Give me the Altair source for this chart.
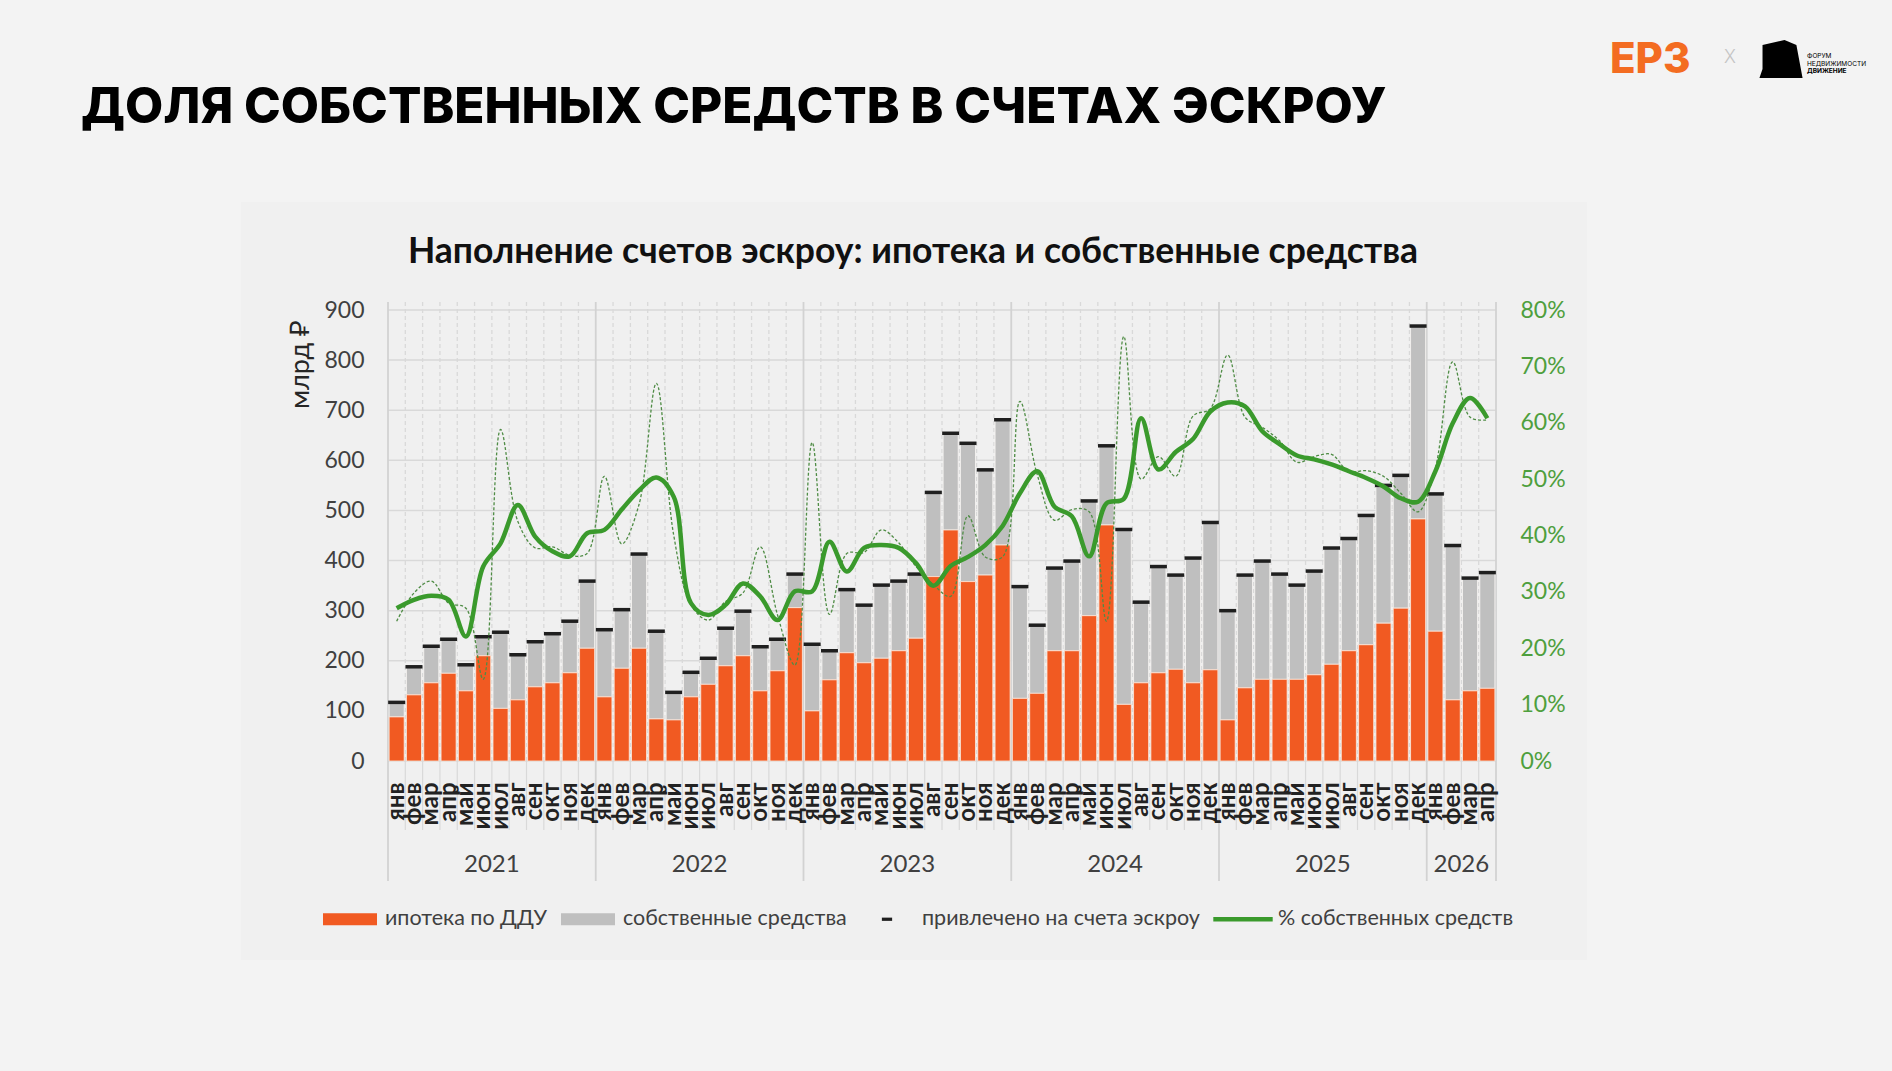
import altair as alt
import pandas as pd

# ---- source values -------------------------------------------------------
years = [2021, 2022, 2023, 2024, 2025, 2026]
months_in_year = [12, 12, 12, 12, 12, 4]
month_names = ["янв", "фев", "мар", "апр", "май", "июн",
               "июл", "авг", "сен", "окт", "ноя", "дек"]

# ипотека по ДДУ, млрд руб.
mortgage = [
    88, 132, 156, 175, 140, 210, 105, 122, 148, 156, 176, 225,
    128, 185, 225, 84, 82, 128, 153, 190, 210, 140, 180, 306,
    100, 162, 216, 196, 205, 220, 245, 368, 461, 358, 371, 431,
    125, 135, 220, 220, 290, 471, 113, 156, 176, 183, 156, 182,
    82, 146, 163, 163, 163, 172, 193, 220, 232, 275, 305, 483,
    259, 122, 140, 145,
]
# привлечено на счета эскроу, млрд руб.
total = [
    117, 188, 229, 243, 192, 248, 257, 212, 238, 254, 279, 359,
    262, 302, 413, 259, 137, 177, 205, 265, 299, 228, 243, 373,
    233, 220, 342, 311, 351, 359, 373, 536, 654, 634, 581, 681,
    348, 271, 385, 399, 519, 629, 462, 317, 388, 371, 405, 476,
    300, 371, 399, 373, 351, 379, 425, 444, 490, 550, 570, 868,
    533, 430, 365, 376,
]
# доля собственных средств за месяц, %
own_share = [
    24.8, 29.8, 31.9, 28.0, 27.1, 14.5, 58.8, 42.5, 37.8, 38.0, 36.5, 36.8,
    50.5, 38.5, 45.5, 67.0, 40.1, 27.7, 25.0, 28.3, 29.8, 38.0, 25.9, 17.0,
    56.5, 26.0, 36.8, 37.0, 41.0, 38.7, 34.5, 31.3, 29.2, 43.5, 36.2, 36.2,
    63.8, 50.8, 42.7, 44.6, 44.2, 24.8, 75.3, 50.0, 54.0, 50.5, 61.2, 62.5,
    72.0, 61.0, 59.2, 56.8, 53.0, 54.0, 54.4, 51.3, 51.5, 50.5, 47.5, 44.2,
    52.0, 70.8, 61.0, 60.5,
]
# сглаженная доля собственных средств, %
own_share_trend = [
    27.1, 28.6, 29.3, 28.6, 22.1, 34.5, 38.6, 45.4, 39.8, 37.2, 36.3, 40.4,
    41.0, 44.6, 48.0, 50.3, 46.9, 28.0, 25.9, 27.7, 31.5, 29.2, 25.0, 30.1,
    30.1, 38.9, 33.6, 37.8, 38.3, 37.8, 35.1, 31.1, 34.6, 36.2, 38.3, 41.7,
    47.5, 51.4, 45.1, 43.4, 36.3, 45.7, 46.5, 60.8, 51.7, 54.8, 57.1, 62.0,
    63.6, 62.9, 58.5, 56.2, 54.2, 53.5, 52.6, 51.4, 50.2, 48.7, 46.6, 46.0,
    51.4, 59.9, 64.4, 60.8,
]

legend_names = ["ипотека по ДДУ", "собственные средства",
                "привлечено на счета эскроу", "% собственных средств"]

TITLE = "ДОЛЯ СОБСТВЕННЫХ СРЕДСТВ В СЧЕТАХ ЭСКРОУ"
SUBTITLE = "Наполнение счетов эскроу: ипотека и собственные средства"
FORUM_LINES = ["ФОРУМ", "НЕДВИЖИМОСТИ", "ДВИЖЕНИЕ"]

# ---- styling ---------------------------------------------------------------
ORANGE = "#f15a22"
GREY = "#bfbfbf"
BLACK = "#1f1f1f"
GREEN = "#3a9a2c"
GREEN_TXT = "#4e9f3d"
GRID = "#d9d9d9"
TXT = "#404040"
FONT = "Lato"

W, H = 1108, 451
N = len(mortgage)
STEP = W / N

# ---- tables ----------------------------------------------------------------
keys, years_col = [], []
for y, n in zip(years, months_in_year):
    for m in month_names[:n]:
        keys.append(f"{m}|{y}")
        years_col.append(y)

df = pd.DataFrame({
    "key": keys,
    "year": years_col,
    "mortgage": mortgage,
    "total": total,
    "share": [v / 100 for v in own_share],
    "trend": [v / 100 for v in own_share_trend],
})

inner_keys = [k for k in keys if not k.startswith("янв|")]
year_first = [k for k in keys if k.startswith("янв|")]

# year label sits on the boundary in the middle of each year's months
year_mid = []
for y, n in zip(years, months_in_year):
    ks = [k for k, yy in zip(keys, years_col) if yy == y]
    year_mid.append(ks[n // 2 - 1])
years_df = pd.DataFrame({"key": year_mid, "label": [str(y) for y in years]})

x_scale = alt.Scale(domain=keys, paddingInner=0.13, paddingOuter=0.065)
x_axis = alt.Axis(
    title=None, labelExpr="split(datum.label, '|')[0]", labelAngle=270,
    labelFont=FONT, labelFontSize=24, labelFontWeight="bold", labelColor="#222222",
    labelPadding=21, ticks=False, tickSize=0, domain=False, grid=False,
    labelOverlap=False, labelBound=False, zindex=1,
)
X = alt.X("key:N", scale=x_scale, axis=x_axis, sort=keys)

y_scale = alt.Scale(domain=[0, 900], nice=False, zero=True)
y_axis = alt.Axis(
    title="млрд ₽", values=list(range(0, 901, 100)), grid=False, ticks=False,
    domain=False, labelFont=FONT, labelFontSize=23, labelColor=TXT, labelPadding=24,
    titleFont=FONT, titleFontSize=27, titleFontWeight="normal", titleColor="#262626",
    titleAngle=270, titleX=-88, titleY=54, titleAlign="center",
    titleBaseline="middle", zindex=1,
)

p_scale = alt.Scale(domain=[0, 0.8], nice=False, zero=True)
p_axis = alt.Axis(
    orient="right", title=None, format=".0%", values=[i / 10 for i in range(9)],
    grid=False, ticks=False, domain=False, labelFont=FONT, labelFontSize=23,
    labelColor=GREEN_TXT, labelPadding=24, zindex=1,
)

one = pd.DataFrame({"t": [0]})

# ---- background panel & headings -------------------------------------------
panel = alt.Chart(one).mark_rect(color="#f0f0f0").encode(
    x=alt.value(-147), x2=alt.value(1199), y=alt.value(-108), y2=alt.value(650)
)


def label(text, **kw):
    return alt.Chart(pd.DataFrame({"t": [text]})).mark_text(**kw).encode(text="t:N")


title = label(TITLE, align="left", baseline="alphabetic", font="Inter",
              fontSize=49.5, fontWeight=800, color="#000000").encode(
    x=alt.value(-307), y=alt.value(-187))
subtitle = label(SUBTITLE, align="center", baseline="alphabetic", font=FONT,
                 fontSize=35.5, fontWeight="bold", color="#111111").encode(
    x=alt.value(525), y=alt.value(-47))

logo_erz = label("ЕРЗ", align="left", baseline="alphabetic", font="Inter",
                 fontSize=42, fontWeight=800, color="#f36c21").encode(
    x=alt.value(1222), y=alt.value(-237))
logo_x = label("X", align="center", baseline="middle", font="Inter",
               fontSize=18, fontWeight=300, color="#c4c4c4").encode(
    x=alt.value(1342), y=alt.value(-252))
house = alt.Chart(one).mark_point(
    shape="M-0.84,-0.64L0.16,-0.86L0.70,-0.64L0.98,0.86L-0.98,0.86L-0.84,0.45Z",
    filled=True, color="#000000", opacity=1, size=1936,
).encode(x=alt.value(1393), y=alt.value(-251))
forum = [
    label(txt, align="left", baseline="alphabetic", font="Inter", fontSize=6.5,
          fontWeight=(700 if i == 2 else 400), color="#000000").encode(
        x=alt.value(1419), y=alt.value(-252 + 7.5 * i))
    for i, txt in enumerate(FORUM_LINES)
]

# ---- grid ------------------------------------------------------------------
hgrid = alt.Chart(pd.DataFrame({"v": list(range(0, 901, 100))})).mark_rule(
    color=GRID, strokeWidth=1.5
).encode(y=alt.Y("v:Q", scale=y_scale, axis=y_axis))

month_grid = alt.Chart(pd.DataFrame({"key": inner_keys})).mark_rule(
    color=GRID, strokeWidth=1.3, strokeDash=[4, 3], xOffset=-STEP / 2
).encode(x=X, y=alt.value(-8), y2=alt.value(H))
month_sep = alt.Chart(pd.DataFrame({"key": inner_keys})).mark_rule(
    color=GRID, strokeWidth=1.2, xOffset=-STEP / 2
).encode(x=X, y=alt.value(H), y2=alt.value(520))
year_sep = alt.Chart(pd.DataFrame({"key": year_first})).mark_rule(
    color="#d2d2d2", strokeWidth=1.8, xOffset=-STEP / 2
).encode(x=X, y=alt.value(-8), y2=alt.value(571))
end_sep = alt.Chart(pd.DataFrame({"key": [keys[-1]]})).mark_rule(
    color="#d2d2d2", strokeWidth=1.8, xOffset=STEP / 2
).encode(x=X, y=alt.value(-8), y2=alt.value(571))

year_labels = alt.Chart(years_df).mark_text(
    font=FONT, fontSize=24, color=TXT, baseline="middle", align="center", dx=STEP / 2
).encode(x=X, y=alt.value(555), text="label:N")

# ---- bars, totals, share lines ---------------------------------------------
base = alt.Chart(df)
own_bars = base.mark_bar(color=GREY, stroke="#f7f5f3", strokeWidth=0.8).encode(
    x=X, y=alt.Y("mortgage:Q", scale=y_scale, axis=y_axis), y2="total:Q"
)
mort_bars = base.mark_bar(color=ORANGE, stroke="#fbe8dc", strokeWidth=0.8).encode(
    x=X, y=alt.Y("mortgage:Q", scale=y_scale, axis=y_axis)
)
total_ticks = base.mark_tick(
    color=BLACK, orient="horizontal", size=17, thickness=3.5, opacity=1
).encode(x=X, y=alt.Y("total:Q", scale=y_scale, axis=y_axis))

share_line = base.mark_line(
    color="#4f8c45", strokeWidth=1.3, strokeDash=[3, 2], interpolate="catmull-rom"
).encode(x=X, y=alt.Y("share:Q", scale=p_scale, axis=p_axis))
trend_line = base.mark_line(
    color=GREEN, strokeWidth=4.5, interpolate="catmull-rom"
).encode(x=X, y=alt.Y("trend:Q", scale=p_scale, axis=p_axis))

# ---- legend ----------------------------------------------------------------
legend_spec = alt.Legend(
    orient="none", legendX=-65, legendY=582, direction="horizontal", title=None,
    symbolSize=2916, symbolStrokeWidth=0, symbolOpacity=1, labelFont=FONT,
    labelFontSize=21.5, labelColor=TXT, labelOffset=8, columnPadding=13, padding=0,
    labelLimit=400,
)
legend_layer = alt.Chart(pd.DataFrame({"series": legend_names})).mark_point(
    filled=True, opacity=1
).encode(
    color=alt.Color("series:N", sort=legend_names, legend=legend_spec,
                    scale=alt.Scale(domain=legend_names,
                                    range=[ORANGE, GREY, BLACK, GREEN])),
    shape=alt.Shape("series:N", sort=legend_names, legend=legend_spec,
                    scale=alt.Scale(domain=legend_names, range=[
                        "M-1,-0.22H1V0.22H-1Z",
                        "M-1,-0.22H1V0.22H-1Z",
                        "M-0.19,-0.06H0.19V0.06H-0.19Z",
                        "M-1.1,-0.08H1.1V0.08H-1.1Z",
                    ])),
).transform_filter("false")

left = alt.layer(
    panel, hgrid, month_grid, month_sep, year_sep, end_sep, year_labels,
    own_bars, mort_bars, total_ticks,
    title, subtitle, logo_erz, logo_x, house, *forum, legend_layer,
)
right = alt.layer(share_line, trend_line)

chart = alt.layer(left, right).resolve_scale(y="independent").properties(
    width=W, height=H,
    autosize=alt.AutoSizeParams(type="none"),
    padding={"left": 388, "top": 310, "right": 396, "bottom": 310},
).configure(background="#f3f3f3").configure_view(stroke=None)

chart.save("out.html", embed_options={"renderer": "svg", "actions": False})
